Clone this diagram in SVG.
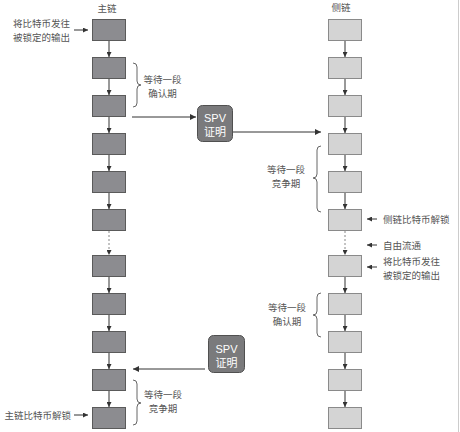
<svg xmlns="http://www.w3.org/2000/svg" width="460" height="432" viewBox="0 0 460 432">
<defs>
<marker id="ah" viewBox="0 0 8 8" refX="8" refY="4" markerWidth="5" markerHeight="5" markerUnits="userSpaceOnUse" orient="auto"><path d="M0,0 L8,4 L0,8 z" fill="#333"/></marker>
<marker id="ah2" viewBox="0 0 8 8" refX="8" refY="4" markerWidth="6" markerHeight="6" markerUnits="userSpaceOnUse" orient="auto"><path d="M0,0 L8,4 L0,8 z" fill="#333"/></marker>
</defs>
<style>
.main rect{fill:#8c8c90;stroke:#5a5a5a;stroke-width:1}
.side rect{fill:#d4d4d4;stroke:#8a8a8a;stroke-width:1}
.spv rect{fill:#7a7a7c;stroke:#505050;stroke-width:1}
.spv text{fill:#fff;font-family:"Liberation Sans","Noto Sans CJK SC",sans-serif;font-size:11px;text-anchor:middle}
.lbl{fill:#555;font-family:"Noto Sans CJK SC",sans-serif;font-size:9.5px}
.mid{text-anchor:middle}
.end{text-anchor:end}
.c line{stroke:#333;stroke-width:1;fill:none}
.c line.v{marker-end:url(#ah)}
.c line.h{marker-end:url(#ah2)}
.c line.d{stroke:#888;stroke-dasharray:2,2}
.br path{stroke:#666;stroke-width:1;fill:none}
</style>
<rect x="0" y="0" width="460" height="432" fill="#fff"/>
<line x1="458.5" y1="0" x2="458.5" y2="432" stroke="#ccc" stroke-width="1"/>

<text class="lbl mid" x="107" y="12">主链</text>
<text class="lbl mid" x="341" y="11">侧链</text>

<g id="main-chain" class="main">
<g id="m1"><rect x="92.5" y="19.5" width="33" height="21"/></g>
<g id="m2"><rect x="92.5" y="57.5" width="33" height="21"/></g>
<g id="m3"><rect x="92.5" y="95.5" width="33" height="21"/></g>
<g id="m4"><rect x="92.5" y="133.5" width="33" height="21"/></g>
<g id="m5"><rect x="92.5" y="171.5" width="33" height="21"/></g>
<g id="m6"><rect x="92.5" y="209.5" width="33" height="21"/></g>
<g id="m7"><rect x="92.5" y="255.5" width="33" height="21"/></g>
<g id="m8"><rect x="92.5" y="293.5" width="33" height="21"/></g>
<g id="m9"><rect x="92.5" y="331.5" width="33" height="21"/></g>
<g id="m10"><rect x="92.5" y="369.5" width="33" height="21"/></g>
<g id="m11"><rect x="92.5" y="407.5" width="33" height="21"/></g>
</g>

<g id="side-chain" class="side">
<g id="s1"><rect x="328.5" y="19.5" width="33" height="21"/></g>
<g id="s2"><rect x="328.5" y="57.5" width="33" height="21"/></g>
<g id="s3"><rect x="328.5" y="95.5" width="33" height="21"/></g>
<g id="s4"><rect x="328.5" y="133.5" width="33" height="21"/></g>
<g id="s5"><rect x="328.5" y="171.5" width="33" height="21"/></g>
<g id="s6"><rect x="328.5" y="209.5" width="33" height="21"/></g>
<g id="s7"><rect x="328.5" y="255.5" width="33" height="21"/></g>
<g id="s8"><rect x="328.5" y="293.5" width="33" height="21"/></g>
<g id="s9"><rect x="328.5" y="331.5" width="33" height="21"/></g>
<g id="s10"><rect x="328.5" y="369.5" width="33" height="21"/></g>
<g id="s11"><rect x="328.5" y="407.5" width="33" height="21"/></g>
</g>

<g id="spv1" class="spv"><rect x="197.5" y="105.5" width="35" height="36" rx="5"/><text x="215" y="122">SPV</text><text x="215" y="136">证明</text></g>
<g id="spv2" class="spv"><rect x="208.5" y="335.5" width="36" height="37" rx="5"/><text x="226.5" y="353">SPV</text><text x="226.5" y="367">证明</text></g>

<g id="connectors" class="c">
<line class="v" x1="109" y1="41" x2="109" y2="57"/>
<line class="v" x1="109" y1="79" x2="109" y2="95"/>
<line class="v" x1="109" y1="117" x2="109" y2="133"/>
<line class="v" x1="109" y1="155" x2="109" y2="171"/>
<line class="v" x1="109" y1="193" x2="109" y2="209"/>
<line class="v d" x1="109" y1="231" x2="109" y2="255"/>
<line class="v" x1="109" y1="277" x2="109" y2="293"/>
<line class="v" x1="109" y1="315" x2="109" y2="331"/>
<line class="v" x1="109" y1="353" x2="109" y2="369"/>
<line class="v" x1="109" y1="391" x2="109" y2="407"/>
<line class="v" x1="345" y1="41" x2="345" y2="57"/>
<line class="v" x1="345" y1="79" x2="345" y2="95"/>
<line class="v" x1="345" y1="117" x2="345" y2="133"/>
<line class="v" x1="345" y1="155" x2="345" y2="171"/>
<line class="v" x1="345" y1="193" x2="345" y2="209"/>
<line class="v d" x1="345" y1="231" x2="345" y2="255"/>
<line class="v" x1="345" y1="277" x2="345" y2="293"/>
<line class="v" x1="345" y1="315" x2="345" y2="331"/>
<line class="v" x1="345" y1="353" x2="345" y2="369"/>
<line class="v" x1="345" y1="391" x2="345" y2="407"/>
<line class="h" x1="132" y1="117" x2="196" y2="117"/>
<line class="h" x1="233" y1="132" x2="321" y2="132"/>
<line class="h" x1="205" y1="369" x2="133" y2="369"/>
<line class="v" x1="74" y1="30" x2="88" y2="30"/>
<line class="v" x1="74" y1="415" x2="88" y2="415"/>
<line class="v" x1="377" y1="219" x2="367" y2="219"/>
<line class="v" x1="377" y1="245" x2="367" y2="245"/>
<line class="v" x1="377" y1="267" x2="367" y2="267"/>
</g>

<g id="braces" class="br">
<path d="M133,63 q4,0 4,4 v14 q0,4 4,4 q-4,0 -4,4 v14 q0,4 -4,4"/>
<path d="M133,380 q4,0 4,4 v15 q0,4 4,4 q-4,0 -4,4 v14 q0,4 -4,4"/>
<path d="M321,146 q-4,0 -4,4 v24 q0,4 -4,4 q4,0 4,4 v26 q0,4 4,4"/>
<path d="M321,293 q-4,0 -4,4 v14 q0,4 -4,4 q4,0 4,4 v14 q0,4 4,4"/>
</g>

<g id="labels">
<text class="lbl mid" x="41.5" y="26.6">将比特币发往</text>
<text class="lbl mid" x="41.5" y="40.6">被锁定的输出</text>
<text class="lbl end" x="71" y="418.6">主链比特币解锁</text>
<text class="lbl mid" x="162.5" y="82.6">等待一段</text>
<text class="lbl mid" x="162.5" y="96.6">确认期</text>
<text class="lbl mid" x="163" y="397.6">等待一段</text>
<text class="lbl mid" x="163" y="411.6">竞争期</text>
<text class="lbl mid" x="286" y="172.6">等待一段</text>
<text class="lbl mid" x="286" y="186.6">竞争期</text>
<text class="lbl mid" x="287" y="311">等待一段</text>
<text class="lbl mid" x="287" y="325">确认期</text>
<text class="lbl" x="383" y="222.6">侧链比特币解锁</text>
<text class="lbl" x="383" y="248.6">自由流通</text>
<text class="lbl" x="383" y="264.6">将比特币发往</text>
<text class="lbl" x="383" y="278.6">被锁定的输出</text>
</g>
</svg>
